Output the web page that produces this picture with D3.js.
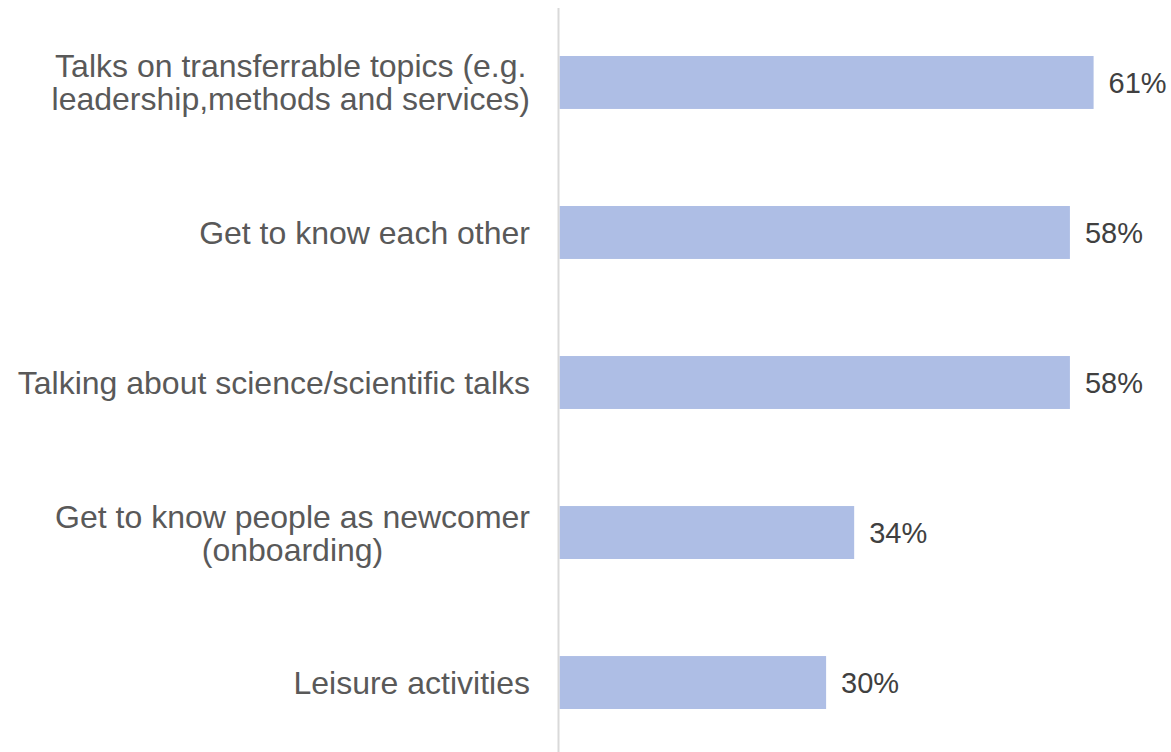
<!DOCTYPE html>
<html>
<head>
<meta charset="utf-8">
<script src="https://cdn.jsdelivr.net/npm/d3@7"></script>
<style>
  body { margin: 0; background: #fff; }
  svg { display: block; font-family: Arial, "Liberation Sans", sans-serif; }
</style>
</head>
<body>
<svg id="chart"></svg>
<script>
// data (labels show rounded values)
const categories = [
    ["Talks on transferrable topics (e.g.", "leadership,methods and services)"],
    ["Get to know each other"],
    ["Talking about science/scientific talks"],
    ["Get to know people as newcomer", "(onboarding)"],
    ["Leisure activities"]
];
const values = [60.9, 58.2, 58.2, 33.6, 30.4];
const valueLabels = ["61%", "58%", "58%", "34%", "30%"];

const svgWidth = 1171, svgHeight = 752;
const axisX = 558.5;

const svg = d3.select("#chart")
    .attr("width", svgWidth)
    .attr("height", svgHeight);

const x = d3.scaleLinear()
    .domain([0, 100])
    .range([axisX + 1, axisX + 1 + 877]);

const y = d3.scaleBand()
    .domain(d3.range(categories.length))
    .range([8, 757])
    .paddingInner(0.647)
    .paddingOuter(0.32);

// bars
svg.append("g")
    .selectAll("rect")
    .data(values)
    .join("rect")
    .attr("x", x(0))
    .attr("y", (d, i) => y(i))
    .attr("width", d => x(d) - x(0))
    .attr("height", y.bandwidth())
    .attr("fill", "#aebee5");

// vertical axis line
svg.append("line")
    .attr("x1", axisX).attr("x2", axisX)
    .attr("y1", y.range()[0]).attr("y2", y.range()[1])
    .attr("stroke", "#d9d9d9")
    .attr("stroke-width", 2);

// value labels
svg.append("g")
    .selectAll("text")
    .data(values)
    .join("text")
    .attr("x", d => x(d) + 15)
    .attr("y", (d, i) => y(i) + y.bandwidth() / 2)
    .attr("dy", "0.36em")
    .attr("font-size", "29px")
    .attr("fill", "#404040")
    .text((d, i) => valueLabels[i]);

// category labels, lines centred within a right-aligned block
const labelRight = 530;
const lineH = 33;
const labels = svg.append("g")
    .selectAll("g")
    .data(categories)
    .join("g");

labels.each(function(lines, i) {
    const g = d3.select(this);
    const cy = y(i) + y.bandwidth() / 2;
    const texts = g.selectAll("text")
        .data(lines)
        .join("text")
        .attr("font-size", "32px")
        .attr("fill", "#595959")
        .attr("text-anchor", "middle")
        .attr("dy", "0.36em")
        .attr("y", (d, k) => cy + (k - (lines.length - 1) / 2) * lineH)
        .text(d => d);
    const maxW = d3.max(texts.nodes(), n => n.getComputedTextLength());
    texts.attr("x", labelRight - maxW / 2);
});
</script>
</body>
</html>
